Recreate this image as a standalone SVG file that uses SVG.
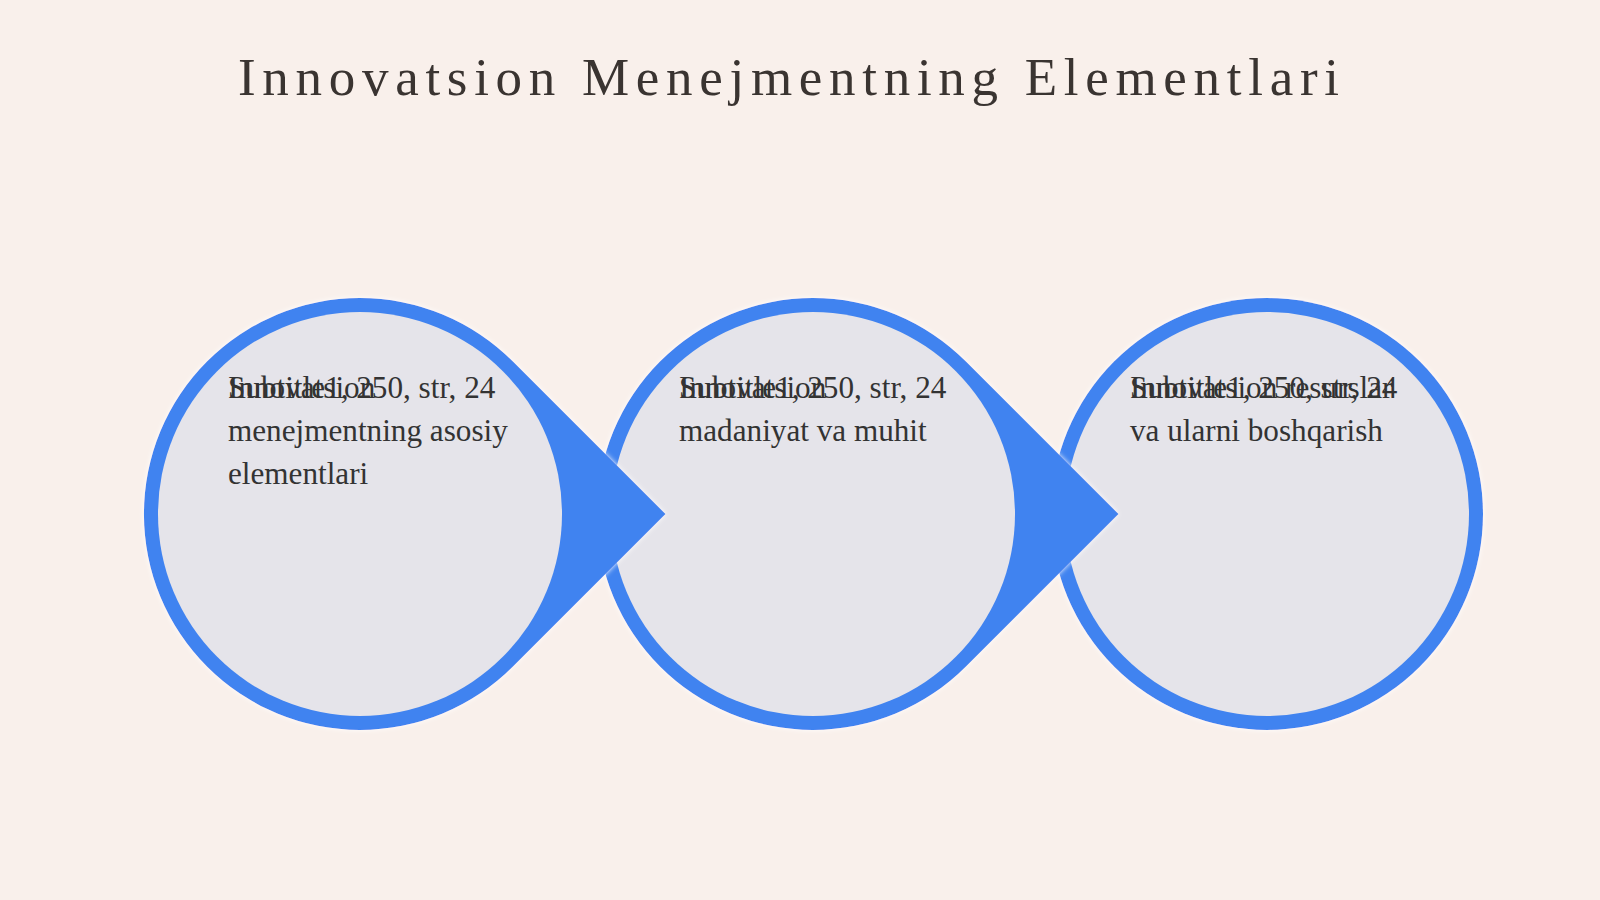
<svg xmlns="http://www.w3.org/2000/svg" width="1600" height="900" viewBox="0 0 1600 900">
<defs>
<style>
.bg{fill:#f9f0eb}
.drop{fill:#4183f0;filter:url(#glow)}
.inner{fill:#e5e4ea}
.t{font-family:"Liberation Serif","Times New Roman",serif;font-size:31.2px;fill:#333333}
.title{font-family:"Liberation Serif","Times New Roman",serif;font-size:53px;fill:#3a3431}
</style>
<filter id="glow" x="-20%" y="-20%" width="140%" height="140%">
<feDropShadow dx="0" dy="0" stdDeviation="2.5" flood-color="#ffffff" flood-opacity="0.95"/>
</filter>
</defs>
<rect class="bg" x="0" y="0" width="1600" height="900"/>
<text class="title" x="238" y="95" textLength="1101" lengthAdjust="spacing">Innovatsion Menejmentning Elementlari</text>
<g id="connectors"></g>
<g id="node3">
<circle class="drop" cx="1267" cy="514" r="216"/>
<circle class="inner" cx="1267" cy="514" r="202"/>
<text class="t" x="1130" y="398">Subtitle1, 250, str, 24</text>
<text class="t" x="1130" y="398">Innovatsion resurslar</text>
<text class="t" x="1130" y="441">va ularni boshqarish</text>
</g>
<g id="node2">
<path class="drop" d="M1118.5 514 L965.7 361.3 A216 216 0 1 0 965.7 666.7 Z"/>
<circle class="inner" cx="813" cy="514" r="202"/>
<text class="t" x="679" y="398">Subtitle1, 250, str, 24</text>
<text class="t" x="679" y="398">Innovatsion</text>
<text class="t" x="679" y="441">madaniyat va muhit</text>
</g>
<g id="node1">
<path class="drop" d="M665.5 514 L512.7 361.3 A216 216 0 1 0 512.7 666.7 Z"/>
<circle class="inner" cx="360" cy="514" r="202"/>
<text class="t" x="228" y="398">Subtitle1, 250, str, 24</text>
<text class="t" x="228" y="398">Innovatsion</text>
<text class="t" x="228" y="441">menejmentning asosiy</text>
<text class="t" x="228" y="484">elementlari</text>
</g>
</svg>
